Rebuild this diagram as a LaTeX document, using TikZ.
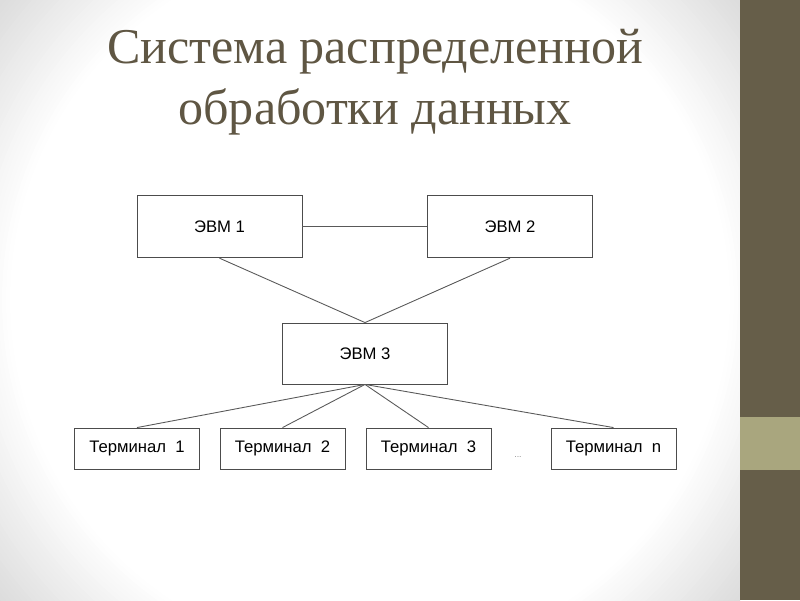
\documentclass[tikz,border=0pt]{standalone}
\usepackage{fontspec}
\setmainfont{Liberation Serif}
\newfontfamily\boxfont{Liberation Sans}
\usepackage{xcolor}
\usetikzlibrary{positioning}

\definecolor{barolive}{HTML}{665E49}
\definecolor{stripkhaki}{HTML}{A9A67E}
\definecolor{titlebrown}{HTML}{5F5643}

\begin{document}
\begin{tikzpicture}[x=0.02cm,y=0.02cm,
    evmbox/.style={draw=black!70,fill=white,line width=0.5pt,inner sep=0pt,
                   minimum width=3.3cm,minimum height=1.25cm,font=\boxfont\fontsize{9.5}{11}\selectfont},
    termbox/.style={evmbox,minimum width=2.5cm,minimum height=0.82cm},
    link/.style={black!65,line width=0.5pt}]
 \useasboundingbox (0,0) rectangle (800,600);
 % background vignette and side bar
 \begin{scope}
  \clip (0,0) rectangle (740,600);
  \fill[black!14] (0,0) rectangle (740,600);
  \foreach \i in {0,...,30} {
   \pgfmathsetmacro\greyval{14*(30-\i)/30}
   \fill[black!\greyval] (370,300) circle ({480-4*\i});
  }
 \end{scope}
 \fill[barolive] (740,0) rectangle (800,600);
 \fill[stripkhaki] (740,130) rectangle (800,183);

 % title
 \node[anchor=base,text=titlebrown,font=\fontsize{28.5}{34}\selectfont] (title1) at (375,537) {Система распределенной};
 \node[anchor=base,text=titlebrown,font=\fontsize{28.5}{34}\selectfont] (title2) at (375,476) {обработки данных};

 % computers
 \node[evmbox] (evm1) at (219.5,373.5) {ЭВМ 1};
 \node[evmbox] (evm2) at (510,373.5) {ЭВМ 2};
 \node[evmbox,minimum height=1.22cm] (evm3) at (365,246.5) {ЭВМ 3};

 % terminals
 \node[termbox] (term1) at (137,151.5) {Терминал~~1};
 \node[termbox] (term2) at (282.5,151.5) {Терминал~~2};
 \node[termbox] (term3) at (428.5,151.5) {Терминал~~3};
 \node[termbox] (termn) at (613.5,151.5) {Терминал~~n};
 \node[text=black!45,font=\boxfont\tiny] (dots) at (518,143) {...};

 \draw[link] (evm1.east) -- (evm2.west);
 \draw[link] (evm1.south) -- (evm3.north);
 \draw[link] (evm2.south) -- (evm3.north);
 \foreach \t in {term1,term2,term3,termn}
  \draw[link] (evm3.south) -- (\t.north);
\end{tikzpicture}
\end{document}
